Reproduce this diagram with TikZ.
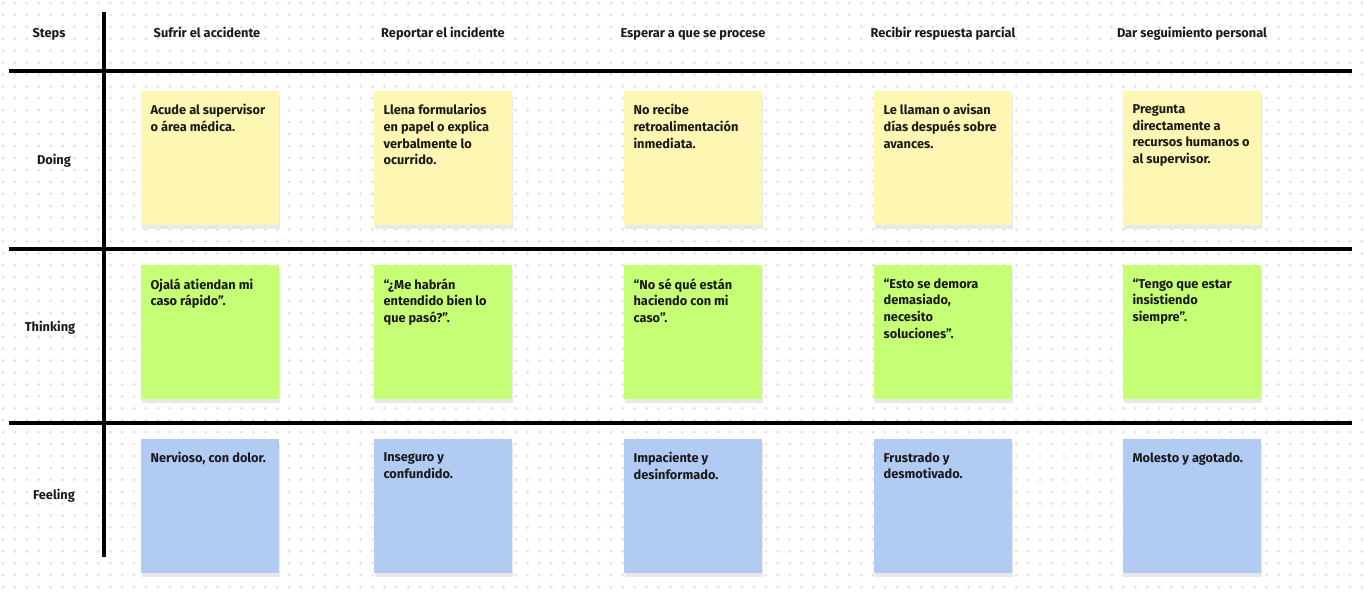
\documentclass[tikz,border=0pt]{standalone}
\usepackage{fontspec}
\setmainfont{Fira Sans}
\usetikzlibrary{positioning,shadows}

\definecolor{noteyellow}{HTML}{FDF7B3}
\definecolor{notegreen}{HTML}{C6FF76}
\definecolor{noteblue}{HTML}{B1CBF3}
\definecolor{griddot}{HTML}{E0E2E7}
\definecolor{ink}{HTML}{1A1A1A}

\begin{document}
\begin{tikzpicture}[x=0.75pt,y=-0.75pt,
every node/.style={font=\bfseries\fontsize{9.6}{12.4}\selectfont,text=ink},
note/.style={anchor=north west,inner sep=0,minimum width=103.5pt,minimum height=100.5pt,
  drop shadow={shadow xshift=0.8pt,shadow yshift=-2.6pt,fill=black!9,opacity=1}},
notetext/.style={anchor=north west,inner sep=0,align=left},
head/.style={anchor=base}]

\useasboundingbox (0,0) rectangle (1364,595);
% dotted board
\foreach \y in {3,14.92,...,595}
  \draw[griddot,line width=2.4pt,line cap=round,dash pattern=on 0pt off 8.94pt] (3,\y) -- (1364,\y);

% grid
\draw[line width=2.3pt] (104,12) -- (104,557);
\draw[line width=2.3pt] (9,71) -- (1352,71);
\draw[line width=2.3pt] (9,249) -- (1352,249);
\draw[line width=2.3pt] (9,423) -- (1352,423);

% header
\node[head] (steps) at (49,38) {Steps};
\node[head] (s1) at (207,38) {Sufrir el accidente};
\node[head] (s2) at (443,38) {Reportar el incidente};
\node[head] (s3) at (693,38) {Esperar a que se procese};
\node[head] (s4) at (943,38) {Recibir respuesta parcial};
\node[head] (s5) at (1192,38) {Dar seguimiento personal};

\node[head] (doing) at (54,165) {Doing};
\node[head] (thinking) at (50,332) {Thinking};
\node[head] (feeling) at (54,499) {Feeling};

% doing
\node[note,fill=noteyellow] (d1) at (141,91) {};
\node[note,fill=noteyellow] (d2) at (374,91) {};
\node[note,fill=noteyellow] (d3) at (624,91) {};
\node[note,fill=noteyellow] (d4) at (874,91) {};
\node[note,fill=noteyellow] (d5) at (1123,91) {};
\node[notetext,below right=10pt and 7pt of d1.north west] (d1t) {Acude al supervisor\\o área médica.};
\node[notetext,below right=10pt and 7pt of d2.north west] (d2t) {Llena formularios\\en papel o explica\\verbalmente lo\\ocurrido.};
\node[notetext,below right=10pt and 7pt of d3.north west] (d3t) {No recibe\\retroalimentación\\inmediata.};
\node[notetext,below right=10pt and 7pt of d4.north west] (d4t) {Le llaman o avisan\\días después sobre\\avances.};
\node[notetext,below right=10pt and 7pt of d5.north west] (d5t) {Pregunta\\directamente a\\recursos humanos o\\al supervisor.};

% thinking
\node[note,fill=notegreen] (t1) at (141,265) {};
\node[note,fill=notegreen] (t2) at (374,265) {};
\node[note,fill=notegreen] (t3) at (624,265) {};
\node[note,fill=notegreen] (t4) at (874,265) {};
\node[note,fill=notegreen] (t5) at (1123,265) {};
\node[notetext,below right=10pt and 7pt of t1.north west] (t1t) {Ojalá atiendan mi\\caso rápido”.};
\node[notetext,below right=10pt and 7pt of t2.north west] (t2t) {“¿Me habrán\\entendido bien lo\\que pasó?”.};
\node[notetext,below right=10pt and 7pt of t3.north west] (t3t) {“No sé qué están\\haciendo con mi\\caso”.};
\node[notetext,below right=10pt and 7pt of t4.north west] (t4t) {“Esto se demora\\demasiado,\\necesito\\soluciones”.};
\node[notetext,below right=10pt and 7pt of t5.north west] (t5t) {“Tengo que estar\\insistiendo\\siempre”.};

% feeling
\node[note,fill=noteblue] (f1) at (141,439) {};
\node[note,fill=noteblue] (f2) at (374,439) {};
\node[note,fill=noteblue] (f3) at (624,439) {};
\node[note,fill=noteblue] (f4) at (874,439) {};
\node[note,fill=noteblue] (f5) at (1123,439) {};
\node[notetext,below right=10pt and 7pt of f1.north west] (f1t) {Nervioso, con dolor.};
\node[notetext,below right=10pt and 7pt of f2.north west] (f2t) {Inseguro y\\confundido.};
\node[notetext,below right=10pt and 7pt of f3.north west] (f3t) {Impaciente y\\desinformado.};
\node[notetext,below right=10pt and 7pt of f4.north west] (f4t) {Frustrado y\\desmotivado.};
\node[notetext,below right=10pt and 7pt of f5.north west] (f5t) {Molesto y agotado.};
\end{tikzpicture}
\end{document}
